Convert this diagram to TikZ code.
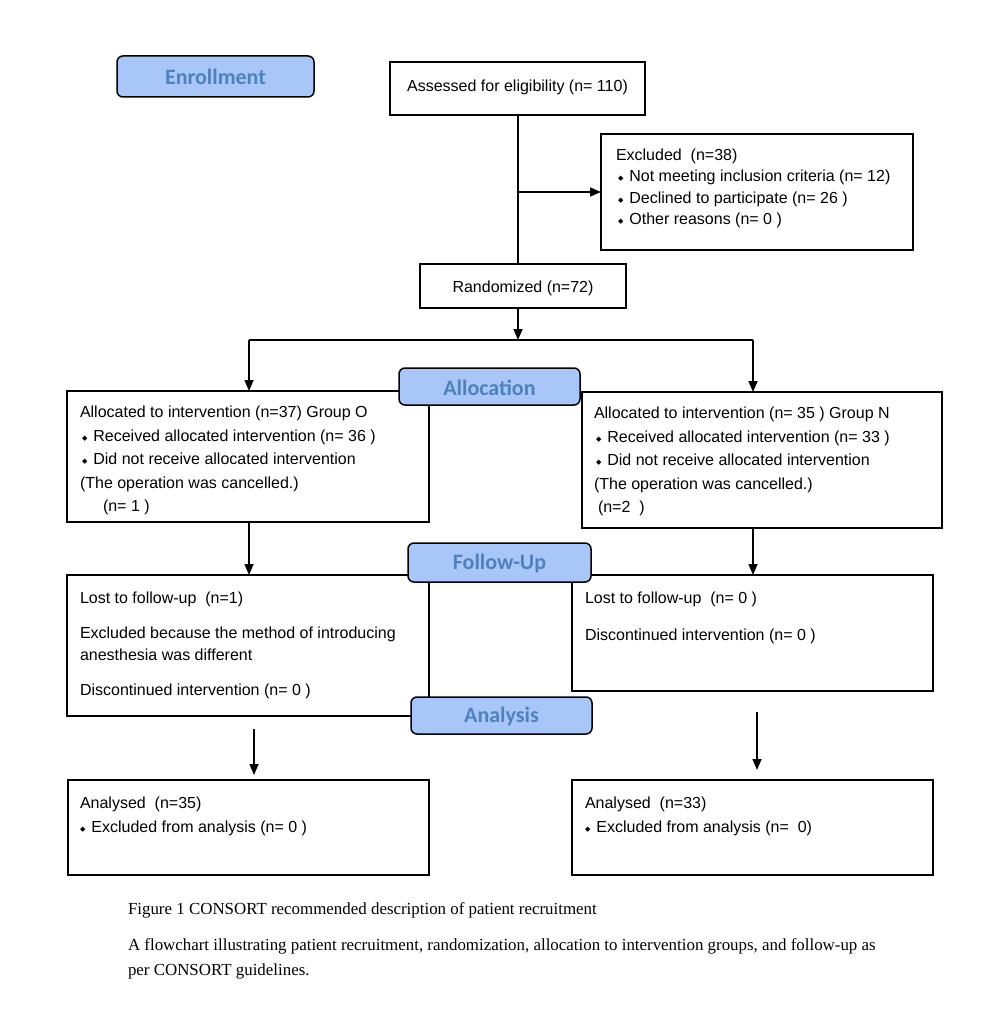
\documentclass[tikz,border=0pt]{standalone}
\usepackage{fontspec}
\setmainfont{Liberation Sans}
\newfontfamily\labfont{Carlito}
\newfontfamily\serfont{Liberation Serif}
\newfontfamily\djv{DejaVu Sans}
\usetikzlibrary{arrows.meta,calc}
\definecolor{labfill}{RGB}{168,198,248}
\definecolor{labtext}{RGB}{79,129,189}
\newcommand{\bul}{\raisebox{1pt}{\djv\fontsize{7}{7}\selectfont ◆}\hspace{6pt}}
\newcommand{\fst}{\rule{0pt}{12pt}}
\begin{document}
\begin{tikzpicture}[x=1pt,y=-1pt,
 every node/.style={inner sep=0pt, outer sep=0pt},
 box/.style={draw, line width=1.5pt, anchor=north west, fill=white},
 lab/.style={draw, line width=1.5pt, rounded corners=6pt, fill=labfill, anchor=north west},
 labtxt/.style={text=labtext, font=\labfont\bfseries\fontsize{22}{26}\selectfont},
 txt/.style={anchor=north west, align=left, font=\fontsize{16}{23.5}\selectfont},
 ctxt/.style={font=\fontsize{16}{20}\selectfont},
 captxt/.style={anchor=base west, align=left, font=\serfont\fontsize{16.9}{25}\selectfont},
 arr/.style={line width=1.5pt, -{Triangle[length=11pt,width=9pt]}},
 ln/.style={line width=1.5pt}
]
\fill[white] (0,0) rectangle (986,1016);
\useasboundingbox (0,0) rectangle (986,1016);

% boxes
\node[box, minimum width=255, minimum height=53] (assess) at (390,62) {};
\node[ctxt] (assesst) at (517.5,87) {Assessed for eligibility (n= 110)};
\node[box, minimum width=312, minimum height=116] (excl) at (601,134) {};
\node[txt, font=\fontsize{16}{21.5}\selectfont] (exclt) at (616,148.5) {\fst Excluded\ \ (n=38)\\
\hspace{2pt}\bul Not meeting inclusion criteria (n= 12)\\
\hspace{2pt}\bul Declined to participate (n= 26 )\\
\hspace{2pt}\bul Other reasons (n= 0 )};
\node[box, minimum width=206, minimum height=44] (rand) at (420,264) {};
\node[ctxt] (randt) at (523,288) {Randomized (n=72)};

\node[box, minimum width=362, minimum height=131] (alloL) at (67,391) {};
\node[txt] (alloLt) at (80,405.5) {\fst Allocated to intervention (n=37) Group O\\
\hspace{2pt}\bul Received allocated intervention (n= 36 )\\
\hspace{2pt}\bul Did not receive allocated intervention\\
(The operation was cancelled.)\\
\hspace{23pt}(n= 1 )};
\node[box, minimum width=360, minimum height=136] (alloR) at (582,392) {};
\node[txt] (alloRt) at (594,406.5) {\fst Allocated to intervention (n= 35 ) Group N\\
\hspace{2pt}\bul Received allocated intervention (n= 33 )\\
\hspace{2pt}\bul Did not receive allocated intervention\\
(The operation was cancelled.)\\
\hspace{4pt}(n=2\ \ )};

\node[box, minimum width=362, minimum height=141] (fuL) at (67,575) {};
\node[txt, font=\fontsize{16}{22}\selectfont] (fuLt) at (80,591.5) {\fst Lost to follow-up\ \ (n=1)\\[13pt]
Excluded because the method of introducing\\
anesthesia was different\\[13pt]
Discontinued intervention (n= 0 )};
\node[box, minimum width=361, minimum height=116] (fuR) at (572,575) {};
\node[txt, font=\fontsize{16}{22}\selectfont] (fuRt) at (585,591.5) {\fst Lost to follow-up\ \ (n= 0 )\\[15pt]
Discontinued intervention (n= 0 )};

\node[box, minimum width=361, minimum height=95] (anL) at (68,780) {};
\node[txt, font=\fontsize{16}{24}\selectfont] (anLt) at (80,796.5) {\fst Analysed\ \ (n=35)\\
\bul Excluded from analysis (n= 0 )};
\node[box, minimum width=361, minimum height=95] (anR) at (572,780) {};
\node[txt, font=\fontsize{16}{24}\selectfont] (anRt) at (585,796.5) {\fst Analysed\ \ (n=33)\\
\bul Excluded from analysis (n=\ \ 0)};

% labels
\node[lab, minimum width=197, minimum height=41] (enr) at (117,56) {};
\node[labtxt] (enrt) at (215.5,77) {Enrollment};
\node[lab, minimum width=181, minimum height=37] (alc) at (399,368) {};
\node[labtxt] (alct) at (489.5,387.5) {Allocation};
\node[lab, minimum width=183, minimum height=39] (fu) at (408,543) {};
\node[labtxt] (fut) at (499.5,563.5) {Follow-Up};
\node[lab, minimum width=181, minimum height=37] (an) at (411,697) {};
\node[labtxt] (ant) at (501.5,717) {Analysis};

% connectors
\coordinate (trunk) at (518,115);
\draw[ln] (trunk) -- (trunk |- rand.north);
\coordinate (exbr) at (trunk |- excl.west);
\draw[arr] (exbr) -- (excl.west);
\coordinate (rs) at (518,308);
\coordinate (split) at (518,340);
\draw[arr] (rs) -- (split);
\coordinate (spL) at (249,340);
\coordinate (spR) at (753,340);
\draw[ln] (spL) -- (spR);
\draw[arr] (spL) -- (spL |- alloL.north);
\draw[arr] (spR) -- (spR |- alloR.north);
\coordinate (aLs) at (249,522);
\coordinate (aRs) at (753,528);
\draw[arr] (aLs) -- (aLs |- fuL.north);
\draw[arr] (aRs) -- (aRs |- fuR.north);
\coordinate (fLs) at (254,729);
\coordinate (fRs) at (757,712);
\draw[arr, shorten >=5pt] (fLs) -- (fLs |- anL.north);
\draw[arr, shorten >=10pt] (fRs) -- (fRs |- anR.north);

% caption
\node[captxt] (cap1) at (128,914) {Figure 1 CONSORT recommended description of patient recruitment};
\node[captxt] (cap2) at (128,975) {A flowchart illustrating patient recruitment, randomization, allocation to intervention groups, and follow-up as\\
per CONSORT guidelines.};
\end{tikzpicture}
\end{document}
